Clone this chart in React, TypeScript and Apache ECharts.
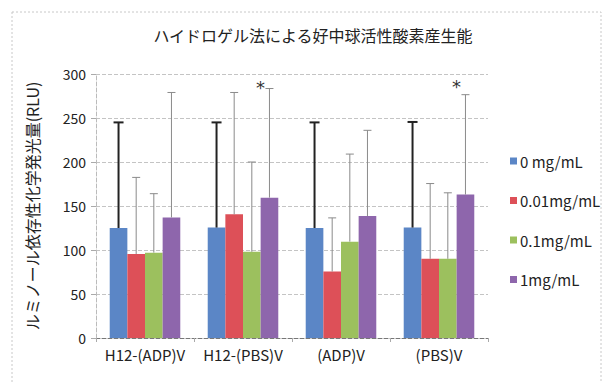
import React, { useEffect, useRef } from "react";
import * as echarts from "echarts";

const title = "ハイドロゲル法による好中球活性酸素産生能";
const yAxisName = "ルミノール依存性化学発光量(RLU)";
const categories = ["H12-(ADP)V", "H12-(PBS)V", "(ADP)V", "(PBS)V"];
const seriesNames = ["0 mg/mL", "0.01mg/mL", "0.1mg/mL", "1mg/mL"];
const colors = ["#5B86C6", "#DD5058", "#9CC05E", "#8E66AC"];
const values0 = [125, 125.5, 125, 125.5];
const values001 = [95.5, 140.5, 75.5, 90];
const values01 = [97, 98, 109.5, 90];
const values1 = [137, 159.5, 138.5, 163];
const upper0 = [245, 245, 245, 245.5];
const upper001 = [182.5, 279, 136.5, 175.5];
const upper01 = [164, 200, 209, 165];
const upper1 = [279, 283.5, 236, 276.5];
const starCategories = [1, 3];
const starValues = [290, 291];
const yTicks = [0, 50, 100, 150, 200, 250, 300];

const allValues = [values0, values001, values01, values1];
const allUppers = [upper0, upper001, upper01, upper1];
const GAP = 0.28;
const FONT = "'Noto Sans CJK JP', 'Noto Sans', sans-serif";

export default function App() {
  const ref = useRef<HTMLDivElement>(null);
  useEffect(() => {
    document.body.style.margin = "0";
    const chart = echarts.init(ref.current!, null, { renderer: "svg" });
    const barSeries = seriesNames.map((name, i) => ({
      name,
      type: "bar",
      data: allValues[i],
      barGap: "0%",
      barCategoryGap: GAP * 100 + "%",
      itemStyle: { color: colors[i] },
      z: 2,
    }));
    const errSeries = seriesNames.map((name, i) => ({
      name: name + "-err",
      type: "custom",
      z: 3,
      silent: true,
      data: allValues[i].map((v, ci) => [ci, v, allUppers[i][ci]]),
      renderItem: (params: any, api: any) => {
        const ci = api.value(0);
        const base = api.coord([ci, api.value(1)]);
        const top = api.coord([ci, api.value(2)]);
        const catW = api.size([1, 0])[0];
        const bw = (catW * (1 - GAP)) / 4;
        const x = base[0] + (i - 1.5) * bw;
        const isBlack = i === 0;
        const stroke = isBlack ? "#222" : "#8a8a8a";
        const lw = isBlack ? 2 : 1;
        const cap = isBlack ? 5 : 4;
        return {
          type: "group",
          children: [
            { type: "line", shape: { x1: x, y1: base[1], x2: x, y2: top[1] }, style: { stroke, lineWidth: lw } },
            { type: "line", shape: { x1: x - cap, y1: top[1], x2: x + cap, y2: top[1] }, style: { stroke, lineWidth: lw } },
          ],
        };
      },
    }));
    const starSeries = {
      name: "stars",
      type: "custom",
      z: 4,
      silent: true,
      data: starCategories.map((c, k) => [c, starValues[k]]),
      renderItem: (params: any, api: any) => {
        const p = api.coord([api.value(0), api.value(1)]);
        const catW = api.size([1, 0])[0];
        const bw = (catW * (1 - GAP)) / 4;
        const x = p[0] + 1.5 * bw - 9;
        return {
          type: "text",
          style: {
            text: "*",
            x,
            y: p[1] + 5,
            textAlign: "center",
            textVerticalAlign: "middle",
            fontSize: 18,
            fontFamily: "'DejaVu Sans', sans-serif",
            fill: "#333",
          },
        };
      },
    };
    chart.setOption({
      animation: false,
      backgroundColor: "#fff",
      textStyle: { fontFamily: FONT },
      title: {
        text: title,
        left: 308,
        top: 22,
        textAlign: "center",
        textStyle: { fontSize: 16, fontWeight: "normal", color: "#222", fontFamily: FONT },
      },
      graphic: [
        {
          type: "rect",
          shape: { x: 12, y: 12, width: 589, height: 400 },
          style: { fill: "none", stroke: "#c8c8c8", lineWidth: 1, lineDash: [2, 2] },
          silent: true,
        },
      ],
      legend: {
        orient: "vertical",
        left: 505,
        top: 146,
        itemWidth: 7,
        itemHeight: 7,
        itemGap: 19.5,
        icon: "rect",
        data: seriesNames,
        textStyle: { fontSize: 15, color: "#222", lineHeight: 20, fontFamily: FONT, padding: [0, 0, 0, -2] },
      },
      grid: { left: 96, right: 118, top: 74, bottom: 45 },
      xAxis: {
        type: "category",
        data: categories,
        axisLine: { lineStyle: { color: "#777", type: "dashed", width: 1 } },
        axisTick: { show: true, length: 4, lineStyle: { color: "#aaa" } },
        axisLabel: { interval: 0, fontSize: 15, color: "#222", margin: 9, fontFamily: FONT },
      },
      yAxis: {
        type: "value",
        min: yTicks[0],
        max: yTicks[yTicks.length - 1],
        interval: 50,
        name: yAxisName,
        nameLocation: "middle",
        nameRotate: 90,
        nameGap: 56,
        nameTextStyle: { fontSize: 16, color: "#222", fontFamily: FONT },
        axisLine: { show: true, lineStyle: { color: "#bbb", type: "dashed" } },
        axisTick: { show: true, length: 5, lineStyle: { color: "#aaa" } },
        axisLabel: { fontSize: 14, color: "#222", margin: 10, fontFamily: FONT },
        splitLine: { lineStyle: { color: "#c4c4c4", type: "dashed", width: 1 } },
      },
      series: [...barSeries, ...errSeries, starSeries],
    });
    return () => chart.dispose();
  }, []);
  return <div ref={ref} style={{ width: 606, height: 383 }} />;
}
